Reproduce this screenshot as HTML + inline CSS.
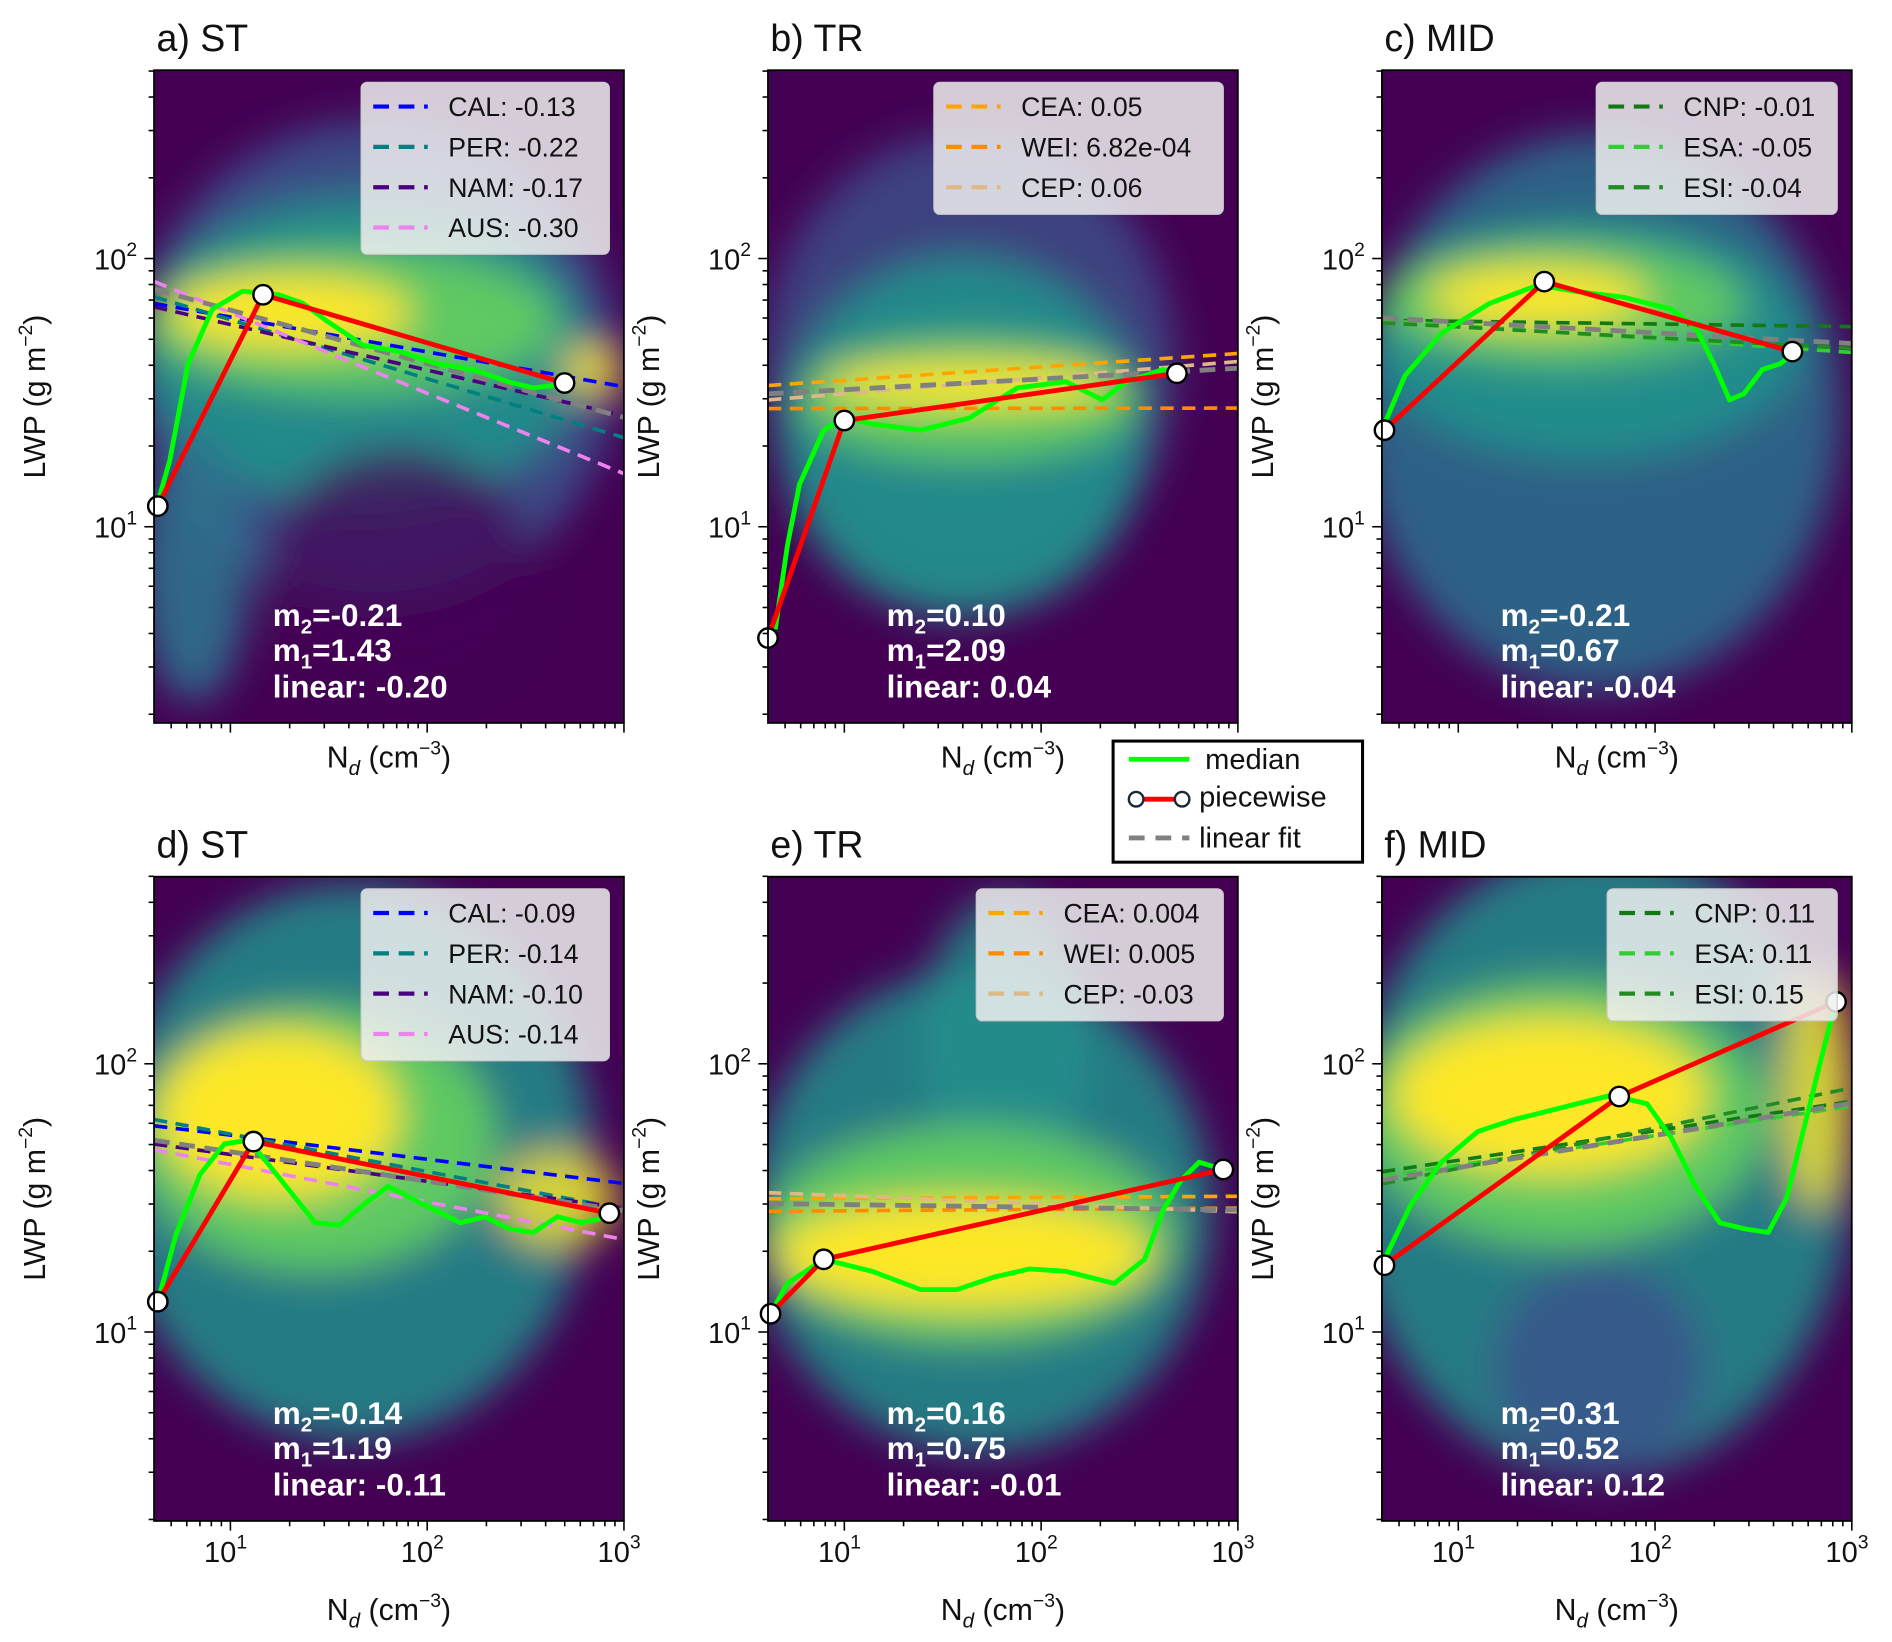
<!DOCTYPE html>
<html><head><meta charset="utf-8"><style>
html,body{margin:0;padding:0;background:#fff;}
svg{display:block;font-family:"Liberation Sans","DejaVu Sans",sans-serif;}
</style></head><body>
<svg id="fig" width="1892" height="1642" viewBox="0 0 1562 1356" xmlns="http://www.w3.org/2000/svg">
<defs>
<filter id="blur" x="-50%" y="-50%" width="200%" height="200%"><feGaussianBlur stdDeviation="16"/></filter>
</defs>
</svg>
<script>
// ---- data (log10 units) ----
const panelTitles = ["a) ST","b) TR","c) MID","d) ST","e) TR","f) MID"];
const medA_x=[0.631,0.692,0.785,0.908,1.062,1.246,1.369,1.492,1.677,1.862,2.046,2.231,2.415,2.538,2.662,2.698];
const medA_y=[1.09,1.248,1.608,1.811,1.878,1.865,1.833,1.766,1.676,1.653,1.608,1.586,1.54,1.518,1.528,1.536];
const medB_x=[0.649,0.711,0.772,0.895,1.0,1.142,1.388,1.634,1.88,2.126,2.311,2.434,2.618,2.711];
const medB_y=[0.617,0.932,1.158,1.36,1.405,1.383,1.36,1.405,1.518,1.541,1.473,1.541,1.586,1.572];
const medC_x=[0.625,0.729,0.914,1.16,1.406,1.591,1.837,2.083,2.206,2.298,2.378,2.452,2.545,2.637,2.698];
const medC_y=[1.383,1.563,1.721,1.833,1.901,1.878,1.856,1.811,1.743,1.608,1.473,1.496,1.586,1.608,1.644];
const medD_x=[0.631,0.723,0.846,0.969,1.092,1.185,1.308,1.431,1.554,1.677,1.8,1.923,2.046,2.169,2.292,2.415,2.538,2.662,2.785,2.926];
const medD_y=[1.113,1.362,1.588,1.701,1.715,1.633,1.52,1.407,1.398,1.475,1.543,1.498,1.452,1.407,1.43,1.385,1.371,1.43,1.407,1.43];
const medE_x=[0.625,0.711,0.895,1.142,1.388,1.572,1.757,1.942,2.126,2.372,2.526,2.618,2.711,2.803,2.926];
const medE_y=[1.068,1.181,1.271,1.226,1.158,1.158,1.204,1.235,1.226,1.181,1.271,1.452,1.566,1.633,1.606];
const medF_x=[0.625,0.76,0.914,1.098,1.283,1.529,1.775,1.96,2.083,2.206,2.329,2.452,2.575,2.668,2.76,2.852,2.92];
const medF_y=[1.271,1.475,1.633,1.747,1.792,1.837,1.882,1.851,1.724,1.543,1.407,1.385,1.371,1.498,1.769,2.041,2.231];
const pwA_x=[0.631,1.166,2.698], pwA_y=[1.077,1.865,1.536];
const pwB_x=[0.612,1.0,2.69], pwB_y=[0.585,1.396,1.572];
const pwC_x=[0.625,1.437,2.698], pwC_y=[1.36,1.914,1.653];
const pwD_x=[0.631,1.117,2.926], pwD_y=[1.113,1.71,1.443];
const pwE_x=[0.625,0.895,2.926], pwE_y=[1.068,1.271,1.606];
const pwF_x=[0.625,1.818,2.92], pwF_y=[1.249,1.878,2.231];
// fits: slope and log10 LWP at Nd=10
const fitNamesA=["CAL","PER","NAM","AUS"], fitSlopeA=[-0.13,-0.22,-0.17,-0.30], fitY10A=[1.782,1.772,1.754,1.798], linA=[-0.20,1.808];
const fitNamesB=["CEA","WEI","CEP"], fitSlopeB=[0.05,0.000682,0.06], fitY10B=[1.546,1.441,1.496], linB=[0.04,1.511];
const fitNamesC=["CNP","ESA","ESI"], fitSlopeC=[-0.01,-0.05,-0.04], fitY10C=[1.766,1.75,1.745], linC=[-0.04,1.763];
const fitNamesD=["CAL","PER","NAM","AUS"], fitSlopeD=[-0.09,-0.14,-0.10,-0.14], fitY10D=[1.734,1.738,1.662,1.625], linD=[-0.11,1.672];
const fitNamesE=["CEA","WEI","CEP"], fitSlopeE=[0.004,0.005,-0.03], fitY10E=[1.498,1.452,1.508], linE=[-0.01,1.475];
const fitNamesF=["CNP","ESA","ESI"], fitSlopeF=[0.11,0.11,0.15], fitY10F=[1.64,1.622,1.61], linF=[0.12,1.613];
const legLabA=["-0.13","-0.22","-0.17","-0.30"], legLabB=["0.05","6.82e-04","0.06"], legLabC=["-0.01","-0.05","-0.04"];
const legLabD=["-0.09","-0.14","-0.10","-0.14"], legLabE=["0.004","0.005","-0.03"], legLabF=["0.11","0.11","0.15"];
const annM2=["-0.21","0.10","-0.21","-0.14","0.16","0.31"];
const annM1=["1.43","2.09","0.67","1.19","0.75","0.52"];
const annLin=["-0.20","0.04","-0.04","-0.11","-0.01","0.12"];

const regionColorsST=["#0000ff","#008080","#4b0082","#ee82ee"];
const regionColorsTR=["#ffa500","#ff8c00","#deb887"];
const regionColorsMID=["#137a13","#32cd32","#228b22"];

const NS="http://www.w3.org/2000/svg";
const svg=document.getElementById('fig');
function mk(tag,attrs,parent){const e=document.createElementNS(NS,tag);for(const k in attrs)e.setAttribute(k,attrs[k]);(parent||svg).appendChild(e);return e;}

const XMIN=0.612, XMAX=3.0;
const panels=[
 {x0:127,y0:58,y1:597,y10:435,med:[medA_x,medA_y],pw:[pwA_x,pwA_y],fn:fitNamesA,fs:fitSlopeA,fy:fitY10A,lin:linA,cols:regionColorsST,ll:legLabA,leg:[298,68,205,142],xl:false,
  blobs:[["#3b528b",310,300,200,200,0.9],["#21918c",300,290,185,130,0.9],["#2c728e",160,470,45,110,0.9],["#440154",330,470,110,100,0.7],["#5ec962",290,265,170,60,1],["#fde725",240,258,100,30,1],["#fde725",490,305,25,20,0.9]]},
 {x0:634,y0:58,y1:597,y10:435,med:[medB_x,medB_y],pw:[pwB_x,pwB_y],fn:fitNamesB,fs:fitSlopeB,fy:fitY10B,lin:linB,cols:regionColorsTR,ll:legLabB,leg:[771,68,239,109],xl:false,
  blobs:[["#3b528b",800,300,170,190,0.8],["#21918c",795,360,150,150,0.9],["#5ec962",800,330,140,50,1],["#fde725",800,318,120,18,1]]},
 {x0:1141,y0:58,y1:597,y10:435,med:[medC_x,medC_y],pw:[pwC_x,pwC_y],fn:fitNamesC,fs:fitSlopeC,fy:fitY10C,lin:linC,cols:regionColorsMID,ll:legLabC,leg:[1318,68,199,109],xl:false,
  blobs:[["#2c728e",1320,340,200,230,0.85],["#21918c",1310,280,180,100,0.9],["#5ec962",1290,250,150,50,1],["#fde725",1270,245,90,25,1]]},
 {x0:127,y0:724,y1:1256,y10:1100,med:[medD_x,medD_y],pw:[pwD_x,pwD_y],fn:fitNamesD,fs:fitSlopeD,fy:fitY10D,lin:linD,cols:regionColorsST,ll:legLabD,leg:[298,734,205,142],xl:true,
  blobs:[["#21918c",290,960,200,230,0.85],["#5ec962",260,940,150,110,1],["#fde725",230,920,100,70,1],["#fde725",460,990,50,40,0.8]]},
 {x0:634,y0:724,y1:1256,y10:1100,med:[medE_x,medE_y],pw:[pwE_x,pwE_y],fn:fitNamesE,fs:fitSlopeE,fy:fitY10E,lin:linE,cols:regionColorsTR,ll:legLabE,leg:[806,734,204,109],xl:true,
  blobs:[["#21918c",810,1000,190,200,0.85],["#21918c",830,860,70,120,0.8],["#5ec962",800,1020,170,90,1],["#fde725",795,1035,155,45,1]]},
 {x0:1141,y0:724,y1:1256,y10:1100,med:[medF_x,medF_y],pw:[pwF_x,pwF_y],fn:fitNamesF,fs:fitSlopeF,fy:fitY10F,lin:linF,cols:regionColorsMID,ll:legLabF,leg:[1327,734,190,109],xl:true,
  blobs:[["#21918c",1320,960,210,260,0.85],["#5ec962",1290,920,170,110,1],["#fde725",1280,905,130,65,1],["#fde725",1500,900,30,100,0.8],["#3b528b",1320,1130,90,90,0.8]]}
];

panels.forEach((p,i)=>{
 const W=388, x1=p.x0+W;
 const sx=v=>p.x0+(v-XMIN)*162.5;
 const sy=v=>p.y10-(v-1)*221.5;
 const g=mk('g',{});
 
 
 const cp=mk('clipPath',{id:'cp'+i},g); mk('rect',{x:p.x0,y:p.y0,width:W,height:p.y1-p.y0},cp);
 const plot=mk('g',{'clip-path':'url(#cp'+i+')'},g);
 const bg=mk('rect',{x:p.x0,y:p.y0,width:W,height:p.y1-p.y0,fill:'#440154'},plot);
 
 
 const hb=mk('g',{filter:'url(#blur)'},plot);
 
 
 p.blobs.forEach(b=>mk('ellipse',{cx:b[1],cy:b[2],rx:b[3],ry:b[4],fill:b[0],opacity:b[5]},hb));
 const xs=[XMIN,XMAX];
 p.fn.forEach((n,k)=>{
  const l=mk('line',{x1:sx(xs[0]),y1:sy(p.fy[k]+p.fs[k]*(xs[0]-1)),x2:sx(xs[1]),y2:sy(p.fy[k]+p.fs[k]*(xs[1]-1)),stroke:p.cols[k],'stroke-width':3,'stroke-dasharray':'11,7'},plot);
  
  
 });
 const lf=mk('line',{x1:sx(xs[0]),y1:sy(p.lin[1]+p.lin[0]*(xs[0]-1)),x2:sx(xs[1]),y2:sy(p.lin[1]+p.lin[0]*(xs[1]-1)),stroke:'#808080','stroke-width':4,'stroke-dasharray':'13,8'},plot);
 
 
 let d=''; p.med[0].forEach((v,k)=>{d+=(k?'L':'M')+sx(v).toFixed(1)+','+sy(p.med[1][k]).toFixed(1);});
 const md=mk('path',{d:d,fill:'none',stroke:'#00ff00','stroke-width':4,'stroke-linejoin':'round'},plot);
 
 
 d=''; p.pw[0].forEach((v,k)=>{d+=(k?'L':'M')+sx(v).toFixed(1)+','+sy(p.pw[1][k]).toFixed(1);});
 const pl=mk('path',{d:d,fill:'none',stroke:'#ff0000','stroke-width':4},g);
 
 
 p.pw[0].forEach((v,k)=>{
  const c=mk('circle',{cx:sx(v),cy:sy(p.pw[1][k]),r:8,fill:'#fff',stroke:'#000','stroke-width':2},g);
  
  
 });
 mk('rect',{x:p.x0,y:p.y0,width:W,height:p.y1-p.y0,fill:'none',stroke:'#000','stroke-width':1.5},g);
 const L=p.leg; const lg=mk('g',{},g);
 
 
 mk('rect',{x:L[0],y:L[1],width:L[2],height:L[3],rx:5,fill:'#f0f0f0','fill-opacity':0.85,stroke:'#ccc'},lg);
 p.fn.forEach((n,k)=>{
  const yy=L[1]+20+k*33.3;
  mk('line',{x1:L[0]+10,y1:yy,x2:L[0]+55,y2:yy,stroke:p.cols[k],'stroke-width':3.5,'stroke-dasharray':'13,8'},lg);
  const t=mk('text',{x:L[0]+72,y:yy+8,'font-size':22,fill:'#111'},lg);
  t.textContent=n+': '+p.ll[k];
  
  
 });
 const ax=p.x0+98, ay=p.y1-80;
 const an=mk('text',{x:ax,y:ay,'font-size':26,'font-weight':'bold',fill:'#fff'},g);
 
 
 an.innerHTML='<tspan x="'+ax+'">m<tspan font-size="17" dy="6">2</tspan><tspan dy="-6">='+annM2[i]+'</tspan></tspan><tspan x="'+ax+'" dy="29">m<tspan font-size="17" dy="6">1</tspan><tspan dy="-6">='+annM1[i]+'</tspan></tspan><tspan x="'+ax+'" dy="30">linear: '+annLin[i]+'</tspan>';
 const tt=mk('text',{x:p.x0+2,y:p.y0-16,'font-size':31,fill:'#111'},g);
 tt.textContent=panelTitles[i];
 
 
 for(let e=0;e<=2;e++)for(let m=1;m<10;m++){
  const v=e+Math.log10(m); const y=sy(v); if(y<p.y0-0.5||y>p.y1+0.5)continue;
  mk('line',{x1:p.x0,y1:y,x2:p.x0-(m==1?8:4.5),y2:y,stroke:'#000','stroke-width':1.3},g);
  if(m==1&&e>0){const t=mk('text',{x:p.x0-14,y:y+9,'font-size':24,'text-anchor':'end',fill:'#111'},g);
   t.innerHTML='10<tspan font-size="16" dy="-11">'+e+'</tspan>';
   
   }
 }
 for(let e=0;e<=3;e++)for(let m=1;m<10;m++){
  const v=e+Math.log10(m); const x=sx(v); if(x<p.x0-0.5||x>x1+0.5)continue;
  mk('line',{x1:x,y1:p.y1,x2:x,y2:p.y1+(m==1?8:4.5),stroke:'#000','stroke-width':1.3},g);
  if(m==1&&e>0&&p.xl){const t=mk('text',{x:x-4,y:p.y1+34,'font-size':24,'text-anchor':'middle',fill:'#111'},g);
   t.innerHTML='10<tspan font-size="16" dy="-11">'+e+'</tspan>';
   
   }
 }
 const xt=mk('text',{x:p.x0+W/2,y:p.xl?1338:634,'font-size':25,'text-anchor':'middle',fill:'#111'},g);
 xt.innerHTML='N<tspan font-size="17" dy="6" font-style="italic">d</tspan><tspan dy="-6"> (cm</tspan><tspan font-size="16" dy="-11">−3</tspan><tspan dy="11">)</tspan>';
 
 
 const yc=(p.y0+p.y1)/2, yx=p.x0-90;
 const yt=mk('text',{x:yx,y:yc,'font-size':25,'text-anchor':'middle',fill:'#111',transform:'rotate(-90 '+yx+' '+yc+')'},g);
 yt.innerHTML='LWP (g m<tspan font-size="16" dy="-11">−2</tspan><tspan dy="11">)</tspan>';
 
 
});

const sl=mk('g',{});


mk('rect',{x:919,y:612,width:206,height:100,fill:'#fff',stroke:'#000','stroke-width':2.5},sl);
mk('line',{x1:932,y1:627,x2:982,y2:627,stroke:'#00ff00','stroke-width':4},sl);
mk('line',{x1:938,y1:660,x2:976,y2:660,stroke:'#ff0000','stroke-width':4},sl);
mk('circle',{cx:938,cy:660,r:6,fill:'#fff',stroke:'#1a2a3a','stroke-width':2},sl);
mk('circle',{cx:976,cy:660,r:6,fill:'#fff',stroke:'#1a2a3a','stroke-width':2},sl);
mk('line',{x1:932,y1:692,x2:982,y2:692,stroke:'#808080','stroke-width':4,'stroke-dasharray':'13,9'},sl);
[['median',635],['piecewise',666],['linear fit',700]].forEach(a=>{
 const t=mk('text',{x:a[0]=='median'?995:990,y:a[1],'font-size':24,fill:'#111'},sl);
 t.textContent=a[0];
 
 
});
</script>
</body></html>
